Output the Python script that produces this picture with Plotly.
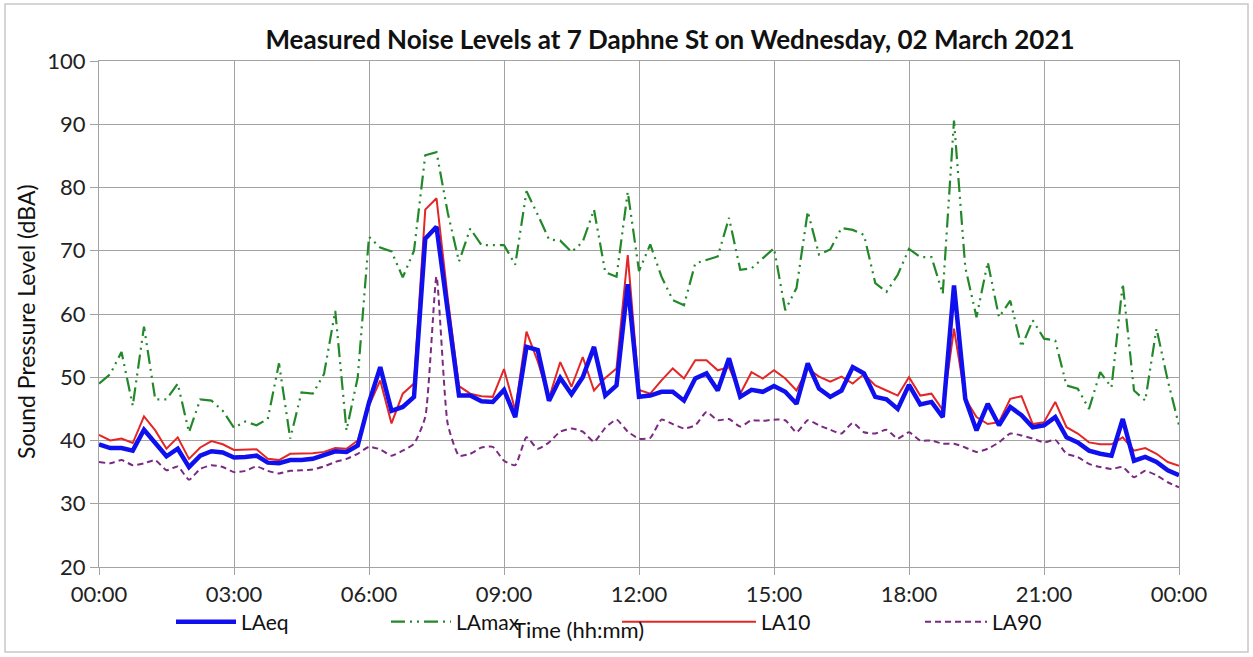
import plotly.graph_objects as go

# time axis: 15-minute intervals, hours from 00:00 to 24:00
hours = [i * 0.25 for i in range(97)]
tick_vals = [0, 3, 6, 9, 12, 15, 18, 21, 24]
tick_text = ["00:00", "03:00", "06:00", "09:00", "12:00", "15:00", "18:00", "21:00", "00:00"]

laeq = [39.4, 38.8, 38.8, 38.4, 41.7, 39.6, 37.5, 38.7, 35.8, 37.6, 38.3, 38.1,
        37.3, 37.4, 37.6, 36.5, 36.4, 36.9, 36.9, 37.1, 37.7, 38.3, 38.2, 39.2,
        46.0, 51.6, 44.7, 45.3, 46.9, 71.9, 73.8, 60.0, 47.1, 47.1, 46.2, 46.1,
        48.0, 43.7, 54.8, 54.3, 46.3, 49.9, 47.3, 50.0, 54.8, 47.1, 48.7, 64.7,
        46.9, 47.1, 47.7, 47.7, 46.3, 49.8, 50.6, 47.9, 53.0, 46.9, 48.0, 47.7,
        48.6, 47.7, 45.8, 52.2, 48.2, 46.9, 47.9, 51.6, 50.6, 46.9, 46.5, 45.0,
        48.8, 45.7, 46.1, 43.7, 64.5, 46.6, 41.6, 45.8, 42.4, 45.3, 44.0, 42.1,
        42.4, 43.7, 40.5, 39.7, 38.4, 37.9, 37.6, 43.4, 36.8, 37.4, 36.6, 35.3,
        34.5]

lamax = [49.0, 50.5, 54.0, 45.5, 58.0, 46.5, 46.5, 49.0, 41.3, 46.5, 46.3, 44.7,
         42.0, 43.0, 42.4, 43.4, 52.2, 40.3, 47.6, 47.4, 50.5, 60.5, 41.6, 50.0,
         72.2, 70.5, 69.9, 65.8, 70.0, 85.1, 85.6, 76.0, 68.3, 73.5, 70.9, 70.9,
         70.9, 67.8, 79.4, 75.7, 71.8, 71.6, 69.8, 71.4, 76.5, 66.6, 65.9, 79.3,
         66.8, 71.0, 65.9, 62.2, 61.4, 68.0, 68.6, 69.1, 75.2, 67.0, 67.2, 68.8,
         70.4, 60.6, 64.1, 76.2, 69.4, 70.2, 73.6, 73.3, 72.5, 64.9, 63.5, 66.2,
         70.3, 69.0, 69.0, 63.2, 90.6, 67.4, 59.5, 68.2, 59.5, 62.1, 54.8, 59.0,
         56.1, 55.8, 48.7, 48.2, 45.0, 50.8, 48.4, 64.8, 47.9, 46.3, 57.7, 49.5,
         42.4]

la10 = [40.9, 40.0, 40.3, 39.6, 43.8, 41.6, 38.7, 40.5, 37.1, 38.9, 39.9, 39.4,
        38.5, 38.5, 38.6, 37.1, 36.9, 37.9, 37.9, 38.0, 38.2, 38.8, 38.7, 40.0,
        45.5, 49.5, 42.7, 47.4, 49.0, 76.5, 78.3, 62.5, 48.6, 47.4, 47.0, 46.9,
        51.3, 44.8, 57.2, 52.5, 46.7, 52.4, 48.5, 53.2, 47.9, 49.9, 51.4, 69.3,
        48.0, 47.4, 49.5, 51.4, 49.8, 52.7, 52.7, 51.1, 51.6, 47.4, 50.8, 49.8,
        51.1, 49.8, 47.9, 51.4, 50.1, 49.3, 50.1, 49.0, 50.5, 48.7, 47.9, 47.1,
        50.0, 47.1, 47.4, 44.8, 57.7, 46.6, 43.7, 42.6, 42.9, 46.6, 47.0, 42.6,
        42.9, 46.1, 42.1, 41.1, 39.7, 39.4, 39.4, 40.5, 38.4, 38.8, 37.9, 36.6,
        36.0]

la90 = [36.6, 36.4, 36.9, 36.1, 36.4, 36.9, 35.3, 35.9, 33.8, 35.5, 36.1, 35.8,
        35.0, 35.2, 35.9, 35.2, 34.8, 35.2, 35.3, 35.4, 35.9, 36.6, 37.1, 37.9,
        39.0, 38.6, 37.6, 38.4, 39.5, 43.7, 65.9, 42.6, 37.6, 37.9, 38.9, 39.0,
        36.8, 36.1, 40.5, 38.7, 39.7, 41.4, 41.9, 41.4, 39.8, 42.0, 43.3, 41.4,
        40.3, 40.4, 43.3, 42.6, 41.9, 42.4, 44.5, 43.2, 43.4, 42.2, 43.2, 43.1,
        43.3, 43.2, 41.3, 43.2, 42.4, 41.7, 41.1, 42.8, 41.3, 41.1, 41.7, 40.3,
        41.3, 40.0, 40.0, 39.5, 39.5, 38.9, 38.2, 38.7, 39.7, 41.1, 40.8, 40.3,
        39.7, 40.1, 37.9, 37.4, 36.3, 35.8, 35.5, 35.8, 34.2, 35.2, 34.5, 33.4,
        32.6]

FONT = "Lato"
L, R, T, B = 99, 1179, 61, 567
W, H = 1253, 657
pw, ph = R - L, B - T


def px_x(x):
    return (x - L) / pw


def px_y(y):
    return (B - y) / ph


fig = go.Figure()
fig.add_trace(go.Scatter(x=hours, y=lamax, name="LAmax", mode="lines", legend="legend2",
                         line=dict(color="#23882a", width=2.2, dash="14px,5px,2px,5px,2px,5px")))
fig.add_trace(go.Scatter(x=hours, y=la90, name="LA90", mode="lines", legend="legend4",
                         line=dict(color="#7b2a82", width=2, dash="6px,4px", shape="spline", smoothing=0.5)))
fig.add_trace(go.Scatter(x=hours, y=la10, name="LA10", mode="lines", legend="legend3",
                         line=dict(color="#e32626", width=2)))
fig.add_trace(go.Scatter(x=hours, y=laeq, name="LAeq", mode="lines", legend="legend",
                         line=dict(color="#1010ee", width=4.5)))


def leg(x_px, item_w):
    return dict(x=px_x(x_px), y=px_y(622), orientation="h", yanchor="middle", xanchor="left",
                bgcolor="rgba(0,0,0,0)", borderwidth=0, itemwidth=item_w,
                font=dict(family=FONT, size=21, color="#111"))


fig.update_layout(
    width=W, height=H,
    margin=dict(l=L, r=W - R, t=T, b=H - B),
    paper_bgcolor="white", plot_bgcolor="white",
    showlegend=True,
    title=dict(text="<b>Measured Noise Levels at 7 Daphne St on Wednesday, 02 March 2021</b>",
               x=px_x(670), xref="paper", xanchor="center", y=1 - 40 / H, yanchor="middle",
               font=dict(family=FONT, size=26, color="#111")),
    legend=leg(171, 60),
    legend2=leg(386, 60),
    legend3=leg(617, 134),
    legend4=leg(920, 62),
    xaxis=dict(range=[0, 24], tickvals=tick_vals, ticktext=tick_text,
               showgrid=True, gridcolor="#a3a3a3", gridwidth=1.2,
               showline=True, linecolor="#a3a3a3", linewidth=1.2, mirror=True,
               ticks="outside", ticklen=7, tickcolor="#a3a3a3",
               tickfont=dict(family=FONT, size=22, color="#222"), zeroline=False),
    yaxis=dict(range=[20, 100], tickvals=[20, 30, 40, 50, 60, 70, 80, 90, 100],
               showgrid=True, gridcolor="#a3a3a3", gridwidth=1.2,
               showline=True, linecolor="#a3a3a3", linewidth=1.2, mirror=True,
               ticks="outside", ticklen=8, tickcolor="#a3a3a3",
               tickfont=dict(family=FONT, size=22, color="#222"), zeroline=False),
    annotations=[
        dict(text="Time (hh:mm)", x=px_x(578), y=px_y(629), xref="paper", yref="paper",
             showarrow=False, xanchor="center", yanchor="middle",
             font=dict(family=FONT, size=22, color="#111")),
        dict(text="Sound Pressure Level (dBA)", x=px_x(26), y=px_y(322), xref="paper", yref="paper",
             showarrow=False, xanchor="center", yanchor="middle", textangle=-90,
             font=dict(family=FONT, size=23, color="#111")),
    ],
    shapes=[dict(type="rect", xref="paper", yref="paper",
                 x0=px_x(5), x1=px_x(1248), y0=px_y(652), y1=px_y(4),
                 line=dict(color="#c8c8c8", width=1.5), fillcolor="rgba(0,0,0,0)", layer="below")],
)

fig.write_html("out.html", config={"displayModeBar": False},
               post_script="document.body.style.margin='0px';document.body.style.overflow='hidden';")
